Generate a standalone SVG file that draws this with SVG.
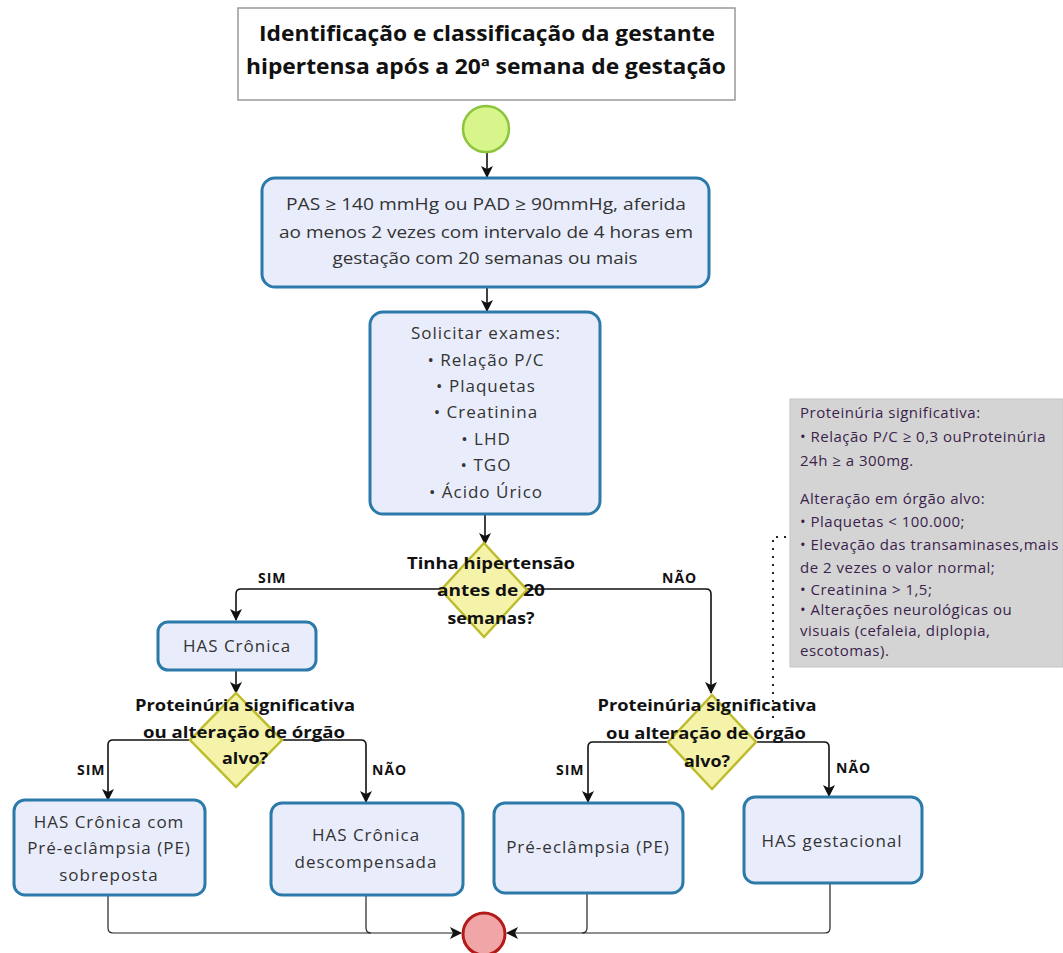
<svg xmlns="http://www.w3.org/2000/svg" width="1063" height="953" viewBox="0 0 1063 953">
<defs>
<marker id="arr" viewBox="0 0 12 12" refX="11" refY="6" markerWidth="12" markerHeight="12" markerUnits="userSpaceOnUse" orient="auto">
<path d="M0,0 L12,6 L0,12 L3,6 z" fill="#111"/>
</marker>
<style>
.box{fill:#e9edfb;stroke:#2c7aaa;stroke-width:3}
.dia{fill:#f5f3a9;stroke:#bcbc2c;stroke-width:2.5}
.t{font-family:"Open Sans","DejaVu Sans",sans-serif;font-size:17px;fill:#333;text-anchor:middle;letter-spacing:1px}
.q{font-family:"Open Sans","DejaVu Sans",sans-serif;font-size:16px;font-weight:bold;fill:#111;text-anchor:middle}
.lbl{font-family:"Open Sans","DejaVu Sans",sans-serif;font-size:14px;font-weight:bold;fill:#111;letter-spacing:1px}
.n{font-family:"Open Sans","DejaVu Sans",sans-serif;font-size:15px;fill:#3b1f4c;letter-spacing:0.5px}
.c{fill:none;stroke:#111;stroke-width:1.6}
.cb{fill:none;stroke:#222;stroke-width:1.2}
</style>
</defs>
<rect width="1063" height="953" fill="#fff"/>

<g id="connectors">
<path class="c" d="M487 153 L487 177" marker-end="url(#arr)"/>
<path class="c" d="M487 288 L487 311" marker-end="url(#arr)"/>
<path class="c" d="M485 515 L485 544" marker-end="url(#arr)"/>
<path class="c" d="M440 589 L241 589 Q236 589 236 594 L236 620" marker-end="url(#arr)"/>
<path class="c" d="M527 589 L706 589 Q711 589 711 594 L711 693" marker-end="url(#arr)"/>
<path class="c" d="M236 671 L236 693" marker-end="url(#arr)"/>
<path class="c" d="M190 740 L113 740 Q108 740 108 745 L108 800" marker-end="url(#arr)"/>
<path class="c" d="M282 740 L361 740 Q366 740 366 745 L366 802" marker-end="url(#arr)"/>
<path class="c" d="M668 742 L593 742 Q588 742 588 747 L588 802" marker-end="url(#arr)"/>
<path class="c" d="M756 742 L824 742 Q829 742 829 747 L829 796" marker-end="url(#arr)"/>
<path class="cb" d="M108 895 L108 928 Q108 933 113 933 L461 933" marker-end="url(#arr)"/>
<path class="cb" d="M366 895 L366 928 Q366 933 371 933"/>
<path class="cb" d="M830 883 L830 928 Q830 933 825 933 L507 933" marker-end="url(#arr)"/>
<path class="cb" d="M587 893 L587 928 Q587 933 582 933"/>
<path d="M786 537 L773 537 L773 724" fill="none" stroke="#222" stroke-width="2" stroke-dasharray="2 6"/>
<text class="lbl" x="258" y="583">SIM</text>
<text class="lbl" x="662" y="583">NÃO</text>
<text class="lbl" x="77" y="775">SIM</text>
<text class="lbl" x="372" y="775">NÃO</text>
<text class="lbl" x="556" y="775">SIM</text>
<text class="lbl" x="836" y="773">NÃO</text>
</g>

<g id="title">
<rect x="238" y="8" width="497" height="92" fill="#fff" stroke="#999" stroke-width="1.5"/>
<text class="q" x="487" y="41" style="font-size:21px" textLength="456" lengthAdjust="spacingAndGlyphs">Identificação e classificação da gestante</text>
<text class="q" x="486" y="74" style="font-size:21px" textLength="480" lengthAdjust="spacingAndGlyphs">hipertensa após a 20ª semana de gestação</text>
</g>

<g id="start">
<circle cx="486" cy="129" r="23" fill="#d8f58c" stroke="#8cc43c" stroke-width="2.5"/>
</g>

<g id="criterio">
<rect class="box" x="262" y="178" width="447" height="109" rx="13"/>
<text class="t" x="486" y="210" style="letter-spacing:0" textLength="400" lengthAdjust="spacingAndGlyphs">PAS ≥ 140 mmHg ou PAD ≥ 90mmHg, aferida</text>
<text class="t" x="486" y="238" style="letter-spacing:0" textLength="414" lengthAdjust="spacingAndGlyphs">ao menos 2 vezes com intervalo de 4 horas em</text>
<text class="t" x="485" y="264" style="letter-spacing:0" textLength="305" lengthAdjust="spacingAndGlyphs">gestação com 20 semanas ou mais</text>
</g>

<g id="exames">
<rect class="box" x="370" y="312" width="230" height="202" rx="13"/>
<text class="t" x="486" y="339">Solicitar exames:</text>
<text class="t" x="486" y="366">• Relação  P/C</text>
<text class="t" x="486" y="392">• Plaquetas</text>
<text class="t" x="486" y="418">• Creatinina</text>
<text class="t" x="486" y="445">• LHD</text>
<text class="t" x="486" y="471">• TGO</text>
<text class="t" x="486" y="498">• Ácido  Úrico</text>
</g>

<g id="decisao1">
<path class="dia" d="M484 543 L527 590 L484 637 L441 590 Z"/>
<text class="q" x="491" y="569" textLength="168" lengthAdjust="spacingAndGlyphs">Tinha hipertensão</text>
<text class="q" x="491" y="596" textLength="108" lengthAdjust="spacingAndGlyphs">antes de 20</text>
<text class="q" x="491" y="624" textLength="87" lengthAdjust="spacingAndGlyphs">semanas?</text>
</g>

<g id="has-cronica">
<rect class="box" x="158" y="622" width="158" height="48" rx="10"/>
<text class="t" x="237" y="652">HAS Crônica</text>
</g>

<g id="decisao2">
<path class="dia" d="M236 693 L282 740 L236 787 L190 740 Z"/>
<text class="q" x="245" y="711" textLength="220" lengthAdjust="spacingAndGlyphs">Proteinúria significativa</text>
<text class="q" x="244" y="738" textLength="202" lengthAdjust="spacingAndGlyphs">ou alteração de órgão</text>
<text class="q" x="245" y="764" textLength="46" lengthAdjust="spacingAndGlyphs">alvo?</text>
</g>

<g id="decisao3">
<path class="dia" d="M712 695 L756 742 L712 789 L668 742 Z"/>
<text class="q" x="707" y="711" textLength="219" lengthAdjust="spacingAndGlyphs">Proteinúria significativa</text>
<text class="q" x="706" y="739" textLength="200" lengthAdjust="spacingAndGlyphs">ou alteração de órgão</text>
<text class="q" x="707" y="767" textLength="46" lengthAdjust="spacingAndGlyphs">alvo?</text>
</g>

<g id="nota">
<rect x="790" y="399" width="273" height="268" fill="#d4d4d4" stroke="#c4c4c4" stroke-width="1"/>
<text class="n" x="800" y="418">Proteinúria significativa:</text>
<text class="n" x="800" y="442">• Relação P/C ≥ 0,3 ouProteinúria</text>
<text class="n" x="800" y="466">24h ≥ a  300mg.</text>
<text class="n" x="800" y="504">Alteração em órgão alvo:</text>
<text class="n" x="800" y="527">• Plaquetas &lt; 100.000;</text>
<text class="n" x="800" y="550">• Elevação das transaminases,mais</text>
<text class="n" x="800" y="573">de 2 vezes o valor normal;</text>
<text class="n" x="800" y="595">• Creatinina  &gt; 1,5;</text>
<text class="n" x="800" y="615">• Alterações neurológicas ou</text>
<text class="n" x="800" y="636">visuais (cefaleia, diplopia,</text>
<text class="n" x="800" y="656">escotomas).</text>
</g>

<g id="has-cronica-pe">
<rect class="box" x="14" y="800" width="191" height="95" rx="11"/>
<text class="t" x="109" y="828">HAS Crônica com</text>
<text class="t" x="109" y="854">Pré-eclâmpsia (PE)</text>
<text class="t" x="109" y="881">sobreposta</text>
</g>

<g id="has-descompensada">
<rect class="box" x="271" y="803" width="192" height="92" rx="11"/>
<text class="t" x="366" y="841">HAS Crônica</text>
<text class="t" x="366" y="868">descompensada</text>
</g>

<g id="pre-eclampsia">
<rect class="box" x="494" y="803" width="189" height="90" rx="11"/>
<text class="t" x="588" y="853">Pré-eclâmpsia (PE)</text>
</g>

<g id="has-gestacional">
<rect class="box" x="744" y="797" width="178" height="86" rx="11"/>
<text class="t" x="832" y="847">HAS gestacional</text>
</g>

<g id="end">
<circle cx="484" cy="934" r="21" fill="#f0a6a6" stroke="#b31b1b" stroke-width="3"/>
</g>
</svg>
